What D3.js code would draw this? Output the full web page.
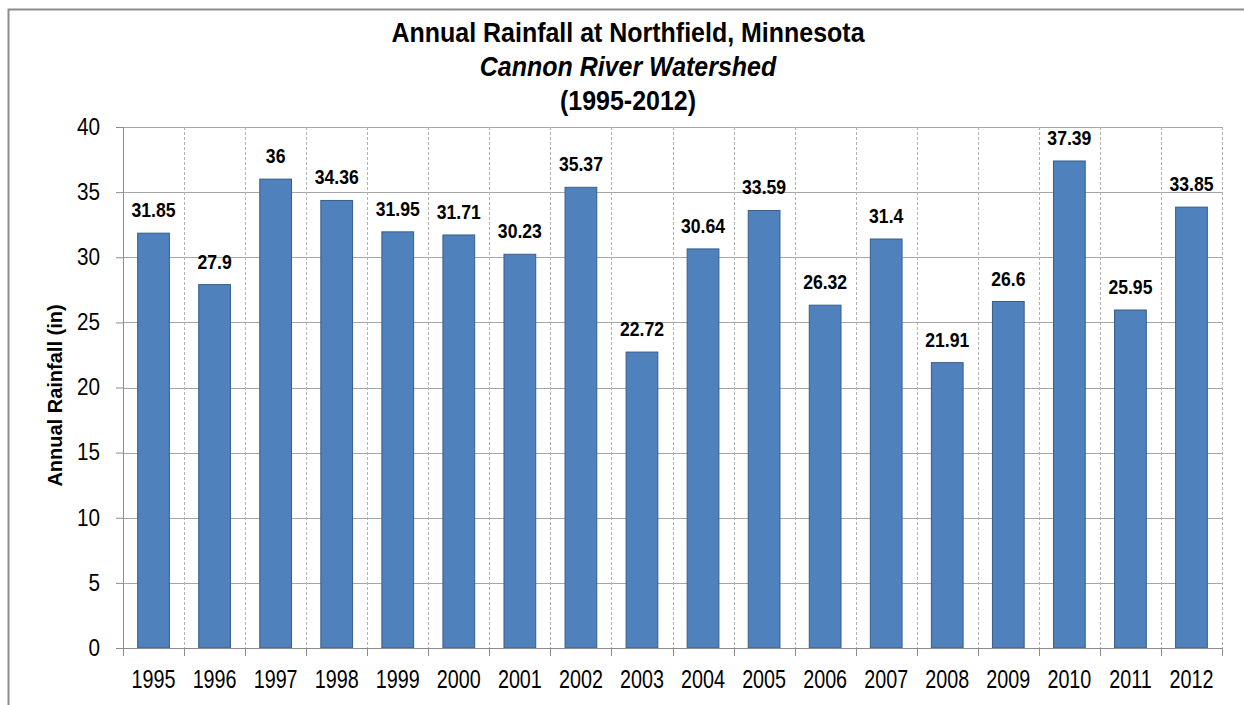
<!DOCTYPE html>
<html>
<head>
<meta charset="utf-8">
<script src="https://cdn.jsdelivr.net/npm/d3@7"></script>
<style>
  body { margin: 0; background: #fff; }
  text { font-family: "Liberation Sans", Arial, sans-serif; fill: #000; }
</style>
</head>
<body>
<svg id="chart"></svg>
<script>
const years = ["1995","1996","1997","1998","1999","2000","2001","2002","2003","2004","2005","2006","2007","2008","2009","2010","2011","2012"];
const rainfall = [31.85, 27.9, 36, 34.36, 31.95, 31.71, 30.23, 35.37, 22.72, 30.64, 33.59, 26.32, 31.4, 21.91, 26.6, 37.39, 25.95, 33.85];
const rainLabels = ["31.85","27.9","36","34.36","31.95","31.71","30.23","35.37","22.72","30.64","33.59","26.32","31.4","21.91","26.6","37.39","25.95","33.85"];
const yTicks = [0, 5, 10, 15, 20, 25, 30, 35, 40];
const titleLines = ["Annual Rainfall at Northfield, Minnesota", "Cannon River Watershed", "(1995-2012)"];

const width = 1244, height = 705;
const margin = {top: 127, right: 22, bottom: 57, left: 123};
const innerW = width - margin.left - margin.right;
const innerH = height - margin.top - margin.bottom;

// the original text is squeezed sideways a little
const squeeze = {title: 0.925, xtick: 0.79, ytick: 0.9, value: 0.88};

const svg = d3.select("#chart").attr("width", width).attr("height", height);

// outer frame (right and bottom edges fall outside the picture)
svg.append("rect")
    .attr("x", 8.5).attr("y", 9.5)
    .attr("width", 1300).attr("height", 800)
    .attr("fill", "none")
    .attr("stroke", "#8c8c8c")
    .attr("stroke-width", 2);

const chart = svg.append("g").attr("transform", `translate(${margin.left},${margin.top})`);

const x = d3.scaleBand().domain(years).range([0, innerW]).paddingInner(0.48).paddingOuter(0.24);
const y = d3.scaleLinear().domain([0, 40]).range([innerH, 0]);
const step = x.step();

// horizontal gridlines
chart.append("g").selectAll("line")
    .data(yTicks.filter(d => d > 0))
    .join("line")
    .attr("x1", 0).attr("x2", innerW)
    .attr("y1", d => Math.round(y(d)) + 0.5).attr("y2", d => Math.round(y(d)) + 0.5)
    .attr("stroke", "#a6a6a6");

// vertical dashed gridlines at category boundaries
chart.append("g").selectAll("line")
    .data(d3.range(1, years.length + 1))
    .join("line")
    .attr("x1", i => Math.round(i * step) + 0.5)
    .attr("x2", i => Math.round(i * step) + 0.5)
    .attr("y1", 0).attr("y2", innerH)
    .attr("stroke", "#b3b3b3")
    .attr("stroke-dasharray", "3,2");

// bars
chart.append("g").selectAll("rect")
    .data(rainfall)
    .join("rect")
    .attr("x", (d, i) => x(years[i]))
    .attr("y", d => y(d))
    .attr("width", x.bandwidth())
    .attr("height", d => innerH - y(d))
    .attr("fill", "#4f81bd")
    .attr("stroke", "#385d8a")
    .attr("stroke-width", 1);

// value labels
chart.append("g").selectAll("text")
    .data(rainfall)
    .join("text")
    .attr("transform", (d, i) => `translate(${x(years[i]) + x.bandwidth() / 2},${y(d) - 16}) scale(${squeeze.value},1)`)
    .attr("text-anchor", "middle")
    .style("font-size", "20px")
    .style("font-weight", "bold")
    .text((d, i) => rainLabels[i]);

// y axis
const yPad = 16, yTickSize = 7;
const yAxis = d3.axisLeft(y).tickValues(yTicks).tickSize(yTickSize).tickPadding(yPad);
const yg = chart.append("g").call(yAxis);
yg.select(".domain").attr("stroke", "#8c8c8c").attr("d", `M0.5,0V${innerH}`);
yg.selectAll(".tick line").attr("stroke", "#8c8c8c");
yg.selectAll(".tick text")
    .style("font-size", "23px")
    .style("font-family", "'Liberation Sans', Arial, sans-serif")
    .attr("x", -(yPad + yTickSize) / squeeze.ytick)
    .attr("transform", `scale(${squeeze.ytick},1)`);

// x axis
const xAxis = d3.axisBottom(x).tickSize(0).tickPadding(22);
const xg = chart.append("g").attr("transform", `translate(0,${innerH})`).call(xAxis);
xg.select(".domain").attr("stroke", "#8c8c8c").attr("d", `M0,0.5H${innerW}`);
xg.selectAll(".tick text")
    .style("font-size", "25px")
    .style("font-family", "'Liberation Sans', Arial, sans-serif")
    .attr("transform", `scale(${squeeze.xtick},1)`);

// x tick marks at category boundaries
chart.append("g").selectAll("line")
    .data(d3.range(years.length + 1))
    .join("line")
    .attr("x1", i => Math.round(i * step) + 0.5).attr("x2", i => Math.round(i * step) + 0.5)
    .attr("y1", innerH).attr("y2", innerH + 8)
    .attr("stroke", "#8c8c8c");

// y axis title
svg.append("text")
    .attr("transform", `translate(62,${margin.top + innerH / 2 + 8}) rotate(-90)`)
    .attr("text-anchor", "middle")
    .style("font-size", "20px")
    .style("font-weight", "bold")
    .text("Annual Rainfall (in)");

// chart title
const titleX = 628;
const titleY = [42, 76, 110];
titleLines.forEach((t, i) => {
    svg.append("text")
        .attr("transform", `translate(${titleX},${titleY[i]}) scale(${squeeze.title},1)`)
        .attr("text-anchor", "middle")
        .style("font-size", "27px")
        .style("font-weight", "bold")
        .style("font-style", i === 1 ? "italic" : "normal")
        .text(t);
});
</script>
</body>
</html>
